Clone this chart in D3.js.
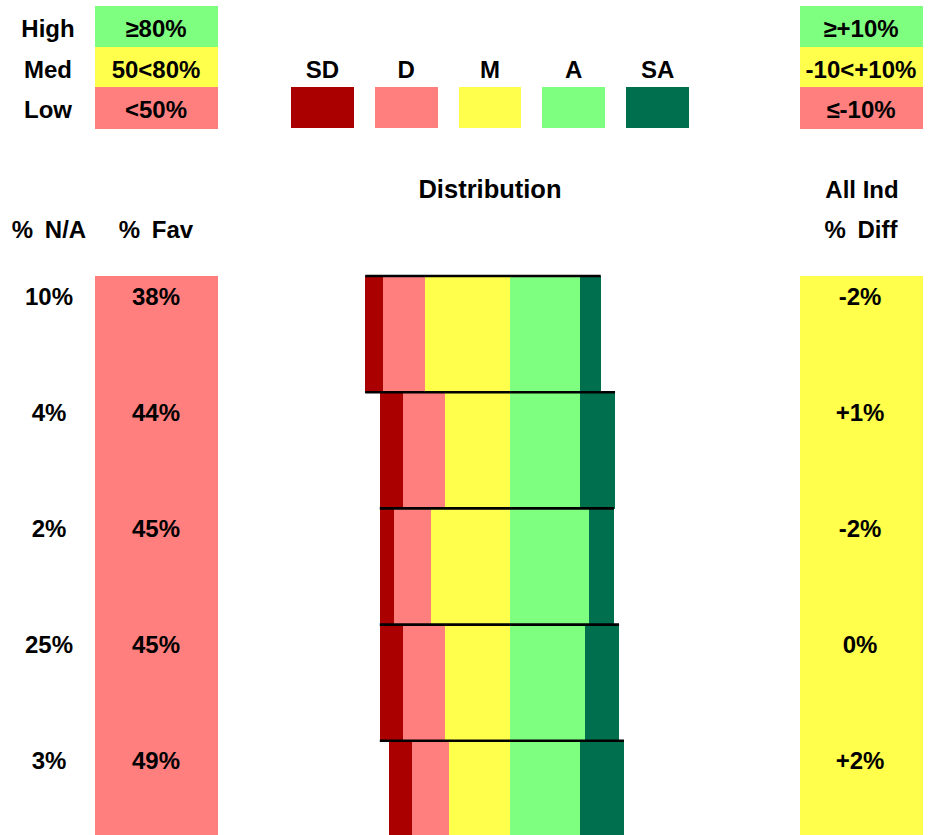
<!DOCTYPE html>
<html>
<head>
<meta charset="utf-8">
<script src="https://cdn.jsdelivr.net/npm/d3@7"></script>
<style>
  html, body { margin: 0; padding: 0; background: #fff; }
  svg text { font-family: "Liberation Sans", Arial, sans-serif; font-weight: bold; fill: #000; }
  svg rect { shape-rendering: crispEdges; }
</style>
</head>
<body>
<svg id="chart" width="933" height="835"></svg>
<script>
// ---- data ----
const rows = ["Item 1", "Item 2", "Item 3", "Item 4", "Item 5"];
const pctNA = [10, 4, 2, 25, 3];
const pctFav = [38, 44, 45, 45, 49];
const pctDiff = [-2, 1, -2, 0, 2];
const SD = [7.7, 9.8, 6.0, 9.8, 9.8];
const D  = [17.9, 17.9, 15.7, 17.9, 15.7];
const M  = [36.0, 27.7, 33.6, 27.7, 26.0];
const A  = [29.8, 29.8, 33.6, 31.9, 29.8];
const SA = [8.8, 14.9, 10.6, 14.5, 18.7];
const scaleNames = ["SD", "D", "M", "A", "SA"];
const favLegend = [["High", "≥80%"], ["Med", "50<80%"], ["Low", "<50%"]];
const diffLegend = ["≥+10%", "-10<+10%", "≤-10%"];

// ---- styling ----
const colors = {SD: "#AA0000", D: "#FF7F7F", M: "#FFFF4C", A: "#7FFF7F", SA: "#006F4E"};
const levelColor = {High: "#7FFF7F", Med: "#FFFF4C", Low: "#FF7F7F"};
const favLevel = v => v >= 80 ? "High" : (v >= 50 ? "Med" : "Low");
const diffLevel = v => v >= 10 ? "High" : (v > -10 ? "Med" : "Low");
const fs = 24;

const svg = d3.select("#chart");

// ---- scales ----
const y = d3.scaleBand().domain(rows).range([276, 276 + 5 * 116.2]).padding(0);
const x = d3.scaleLinear().domain([-100, 100]).range([510 - 235, 510 + 235]);
const legRow = d3.scaleBand().domain([0, 1, 2]).range([6, 128]);
const legX = d3.scaleBand().domain(scaleNames).range([291, 689]).paddingInner(0.25);

// ---- top-left legend ----
favLegend.forEach((d, i) => {
  svg.append("rect").attr("x", 95).attr("width", 123)
    .attr("y", legRow(i)).attr("height", legRow.bandwidth() + 0.5)
    .attr("fill", levelColor[d[0]]);
  svg.append("text").attr("x", 48).attr("y", legRow(i) + 31)
    .attr("text-anchor", "middle").attr("font-size", fs).text(d[0]);
  svg.append("text").attr("x", 156).attr("y", legRow(i) + 31)
    .attr("text-anchor", "middle").attr("font-size", fs).text(d[1]);
});

// ---- scale legend ----
scaleNames.forEach(n => {
  svg.append("rect").attr("x", legX(n)).attr("width", legX.bandwidth())
    .attr("y", legRow(2)).attr("height", legRow.bandwidth())
    .attr("fill", colors[n]);
  svg.append("text").attr("x", legX(n) + legX.bandwidth() / 2).attr("y", legRow(1) + 31)
    .attr("text-anchor", "middle").attr("font-size", fs).text(n);
});

// ---- top-right legend ----
["High", "Med", "Low"].forEach((lv, i) => {
  svg.append("rect").attr("x", 800).attr("width", 123)
    .attr("y", legRow(i)).attr("height", legRow.bandwidth() + 0.5)
    .attr("fill", levelColor[lv]);
  svg.append("text").attr("x", 861).attr("y", legRow(i) + 31)
    .attr("text-anchor", "middle").attr("font-size", fs).text(diffLegend[i]);
});

// ---- headers ----
const hdr = (tx, xx, yy, size, ws) => svg.append("text").attr("x", xx).attr("y", yy)
  .attr("text-anchor", "middle").attr("font-size", size || fs)
  .attr("word-spacing", ws || 0).text(tx);
hdr("Distribution", 490, 198, 25.5);
hdr("All Ind", 862, 198);
hdr("% Diff", 861, 238, fs, 5);
hdr("% N/A", 49, 238, fs, 5);
hdr("% Fav", 156, 238, fs, 5);

// ---- data rows ----
const segs = rows.map((r, i) => {
  const lm = -M[i], ld = lm - D[i], ls = ld - SD[i];
  return [
    {row: r, k: "SD", x0: ls, x1: ld},
    {row: r, k: "D", x0: ld, x1: lm},
    {row: r, k: "M", x0: lm, x1: 0},
    {row: r, k: "A", x0: 0, x1: A[i]},
    {row: r, k: "SA", x0: A[i], x1: A[i] + SA[i]}
  ];
});

rows.forEach((r, i) => {
  const top = y(r);
  // % Fav cell
  svg.append("rect").attr("x", 95).attr("width", 123)
    .attr("y", top).attr("height", y.bandwidth() + 1)
    .attr("fill", levelColor[favLevel(pctFav[i])]);
  // % Diff cell
  svg.append("rect").attr("x", 800).attr("width", 123)
    .attr("y", top).attr("height", y.bandwidth() + 1)
    .attr("fill", levelColor[diffLevel(pctDiff[i])]);

  svg.append("text").attr("x", 49).attr("y", top + 28.5)
    .attr("text-anchor", "middle").attr("font-size", fs).text(pctNA[i] + "%");
  svg.append("text").attr("x", 156).attr("y", top + 28.5)
    .attr("text-anchor", "middle").attr("font-size", fs).text(pctFav[i] + "%");
  const dtxt = (pctDiff[i] > 0 ? "+" : "") + pctDiff[i] + "%";
  svg.append("text").attr("x", 860).attr("y", top + 28.5)
    .attr("text-anchor", "middle").attr("font-size", fs).text(dtxt);

  // bar segments
  svg.append("g").selectAll("rect").data(segs[i]).join("rect")
    .attr("x", d => x(d.x0)).attr("width", d => x(d.x1) - x(d.x0))
    .attr("y", top).attr("height", y.bandwidth() + 1)
    .attr("fill", d => colors[d.k]);
});

// top border lines of each bar
rows.forEach((r, i) => {
  const prev = i > 0 ? i - 1 : i;
  const left = x(-(M[prev] + D[prev] + SD[prev]));
  const leftCur = x(-(M[i] + D[i] + SD[i]));
  const right = x(A[i] + SA[i]);
  svg.append("line")
    .attr("x1", Math.min(left, leftCur)).attr("x2", right)
    .attr("y1", y(r)).attr("y2", y(r))
    .attr("stroke", "#000").attr("stroke-width", 2.6);
});
</script>
</body>
</html>
